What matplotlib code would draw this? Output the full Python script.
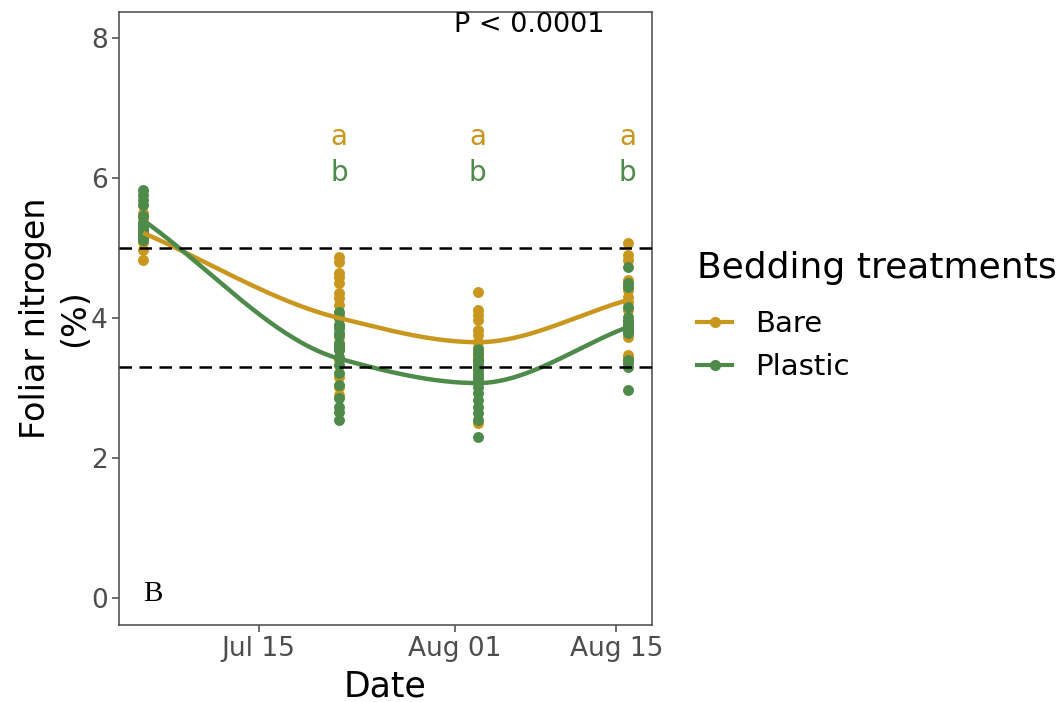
import numpy as np
import matplotlib
matplotlib.use("Agg")
import matplotlib.pyplot as plt
import matplotlib.dates as mdates
from matplotlib.lines import Line2D
import datetime as dt

# Sampling dates
sample_dates = ["2021-07-05", "2021-07-22", "2021-08-03", "2021-08-16"]

# Foliar nitrogen (%) per sampling date, bare bedding
bare_jul05 = [5.50, 5.43, 5.35, 5.30, 5.29, 5.25, 5.21, 5.15, 5.09, 4.97, 4.83]
bare_jul22 = [4.87, 4.80, 4.64, 4.59, 4.50, 4.36, 4.29, 4.19, 4.04, 3.90,
              3.73, 3.59, 3.40, 3.16, 3.01, 2.90]
bare_aug03 = [4.37, 4.11, 4.04, 3.97, 3.83, 3.76, 3.66, 3.57, 3.50, 3.45,
              3.44, 3.30, 2.50]
bare_aug16 = [5.07, 4.90, 4.83, 4.54, 4.45, 4.40, 4.30, 4.23, 4.11, 3.87,
              3.73, 3.47, 3.43]

# Foliar nitrogen (%) per sampling date, plastic bedding
plastic_jul05 = [5.83, 5.76, 5.69, 5.61, 5.45, 5.36, 5.30, 5.25, 5.25, 5.20,
                 5.19, 5.15, 5.11]
plastic_jul22 = [4.09, 4.00, 3.90, 3.86, 3.79, 3.75, 3.64, 3.60, 3.55, 3.54,
                 3.44, 3.33, 3.21, 3.04, 2.86, 2.73, 2.66, 2.54]
plastic_aug03 = [3.55, 3.50, 3.40, 3.40, 3.35, 3.30, 3.25, 3.20, 3.15, 3.11,
                 3.01, 2.93, 2.83, 2.73, 2.64, 2.54, 2.30]
plastic_aug16 = [4.73, 4.50, 4.44, 4.16, 4.01, 3.95, 3.94, 3.90, 3.85, 3.83,
                 3.80, 3.79, 3.40, 3.35, 3.30, 2.97]

# Post-hoc letters per date (from the 2nd date on)
letter_dates = ["2021-07-22", "2021-08-03", "2021-08-16"]
bare_letters = ["a", "a", "a"]
plastic_letters = ["b", "b", "b"]

# Reference band for foliar N
ref_lines = [5.0, 3.3]

BARE_COL = "#C9971D"
PLASTIC_COL = "#4E8A4A"
GREY = "#4D4D4D"

plt.rcParams["font.family"] = ["DejaVu Sans"]


def to_num(s):
    return mdates.date2num(dt.datetime.strptime(s, "%Y-%m-%d"))


def stack(groups):
    xs, ys = [], []
    for d, vals in zip(sample_dates, groups):
        xs += [to_num(d)] * len(vals)
        ys += list(vals)
    return np.array(xs), np.array(ys)


def trend_line(groups, grid):
    """Shape-preserving cubic (PCHIP-style) trend through the per-date means."""
    t = np.array([to_num(d) for d in sample_dates])
    m = np.array([np.mean(g) for g in groups])
    h = np.diff(t)
    delta = np.diff(m) / h
    d = np.zeros_like(m)
    for k in range(1, len(m) - 1):
        if delta[k - 1] * delta[k] > 0:
            w1 = 2 * h[k] + h[k - 1]
            w2 = h[k] + 2 * h[k - 1]
            d[k] = (w1 + w2) / (w1 / delta[k - 1] + w2 / delta[k])
    d[0], d[-1] = delta[0], delta[-1]
    out = np.empty_like(grid)
    for i, xg in enumerate(grid):
        k = min(np.searchsorted(t, xg, side="right") - 1, len(t) - 2)
        s = (xg - t[k]) / h[k]
        h00 = 2 * s**3 - 3 * s**2 + 1
        h10 = s**3 - 2 * s**2 + s
        h01 = -2 * s**3 + 3 * s**2
        h11 = s**3 - s**2
        out[i] = (h00 * m[k] + h10 * h[k] * d[k]
                  + h01 * m[k + 1] + h11 * h[k] * d[k + 1])
    return out


bare_groups = [bare_jul05, bare_jul22, bare_aug03, bare_aug16]
plastic_groups = [plastic_jul05, plastic_jul22, plastic_aug03, plastic_aug16]
bx, by = stack(bare_groups)
px, py = stack(plastic_groups)

fig = plt.figure(figsize=(10.64, 7.02), dpi=100)
ax = fig.add_axes([0.1118, 0.1097, 0.5010, 0.8732])

ax.scatter(bx, by, s=62, color=BARE_COL, zorder=2, linewidths=0)
ax.scatter(px, py, s=62, color=PLASTIC_COL, zorder=2, linewidths=0)

grid = np.linspace(bx.min(), bx.max(), 400)
ax.plot(grid, trend_line(bare_groups, grid), color=BARE_COL,
        lw=3.2, zorder=3, solid_capstyle="butt")
ax.plot(grid, trend_line(plastic_groups, grid), color=PLASTIC_COL,
        lw=3.2, zorder=3, solid_capstyle="butt")

for r in ref_lines:
    ax.axhline(r, color="black", lw=1.8, ls=(0, (5, 3)), zorder=4)

for d, la, lb in zip(letter_dates, bare_letters, plastic_letters):
    ax.text(to_num(d), 6.59, la, color=BARE_COL, fontsize=20,
            ha="center", va="center")
    ax.text(to_num(d), 6.07, lb, color=PLASTIC_COL, fontsize=20,
            ha="center", va="center")

ax.text(to_num("2021-08-01") + 6.5, 8.19, "P < 0.0001", fontsize=19.5,
        ha="center", va="center", color="black")
ax.text(to_num("2021-07-05") + 0.8, 0.06, "B", fontsize=21,
        family="Liberation Serif", ha="center", va="center", color="black")

x0, x1 = to_num(sample_dates[0]), to_num(sample_dates[-1])
pad = 0.05 * (x1 - x0)
ax.set_xlim(x0 - pad, x1 + pad)
ax.set_ylim(-0.386, 8.371)
ax.set_yticks([0, 2, 4, 6, 8])
ax.set_xticks([to_num("2021-07-15"), to_num("2021-08-01"), to_num("2021-08-15")])
ax.xaxis.set_major_formatter(mdates.DateFormatter("%b %d"))

for s in ax.spines.values():
    s.set_color("#555555")
    s.set_linewidth(1.2)
ax.tick_params(colors=GREY, labelsize=19, length=5, width=1.2, pad=3)
ax.tick_params(axis="both", color="#555555")

ax.set_xlabel("Date", fontsize=25, labelpad=5)
ax.set_ylabel("Foliar nitrogen\n(%)", fontsize=24, labelpad=0, linespacing=1.25)

# Legend: title drawn as figure text, entries below it
fig.text(697 / 1064, 1 - 268 / 702, "Bedding treatments", fontsize=26,
         ha="left", va="center", color="black")
handles = [
    Line2D([0], [0], color=BARE_COL, lw=3, marker="o", markersize=7),
    Line2D([0], [0], color=PLASTIC_COL, lw=3, marker="o", markersize=7),
]
leg = fig.legend(handles, ["Bare", "Plastic"],
                 loc="upper left", bbox_to_anchor=(697 / 1064, 1 - 310 / 702),
                 frameon=False, fontsize=21,
                 handlelength=1.2, handletextpad=0.8, labelspacing=0.52,
                 borderpad=0, borderaxespad=0)

fig.savefig("out.png", dpi=100)
